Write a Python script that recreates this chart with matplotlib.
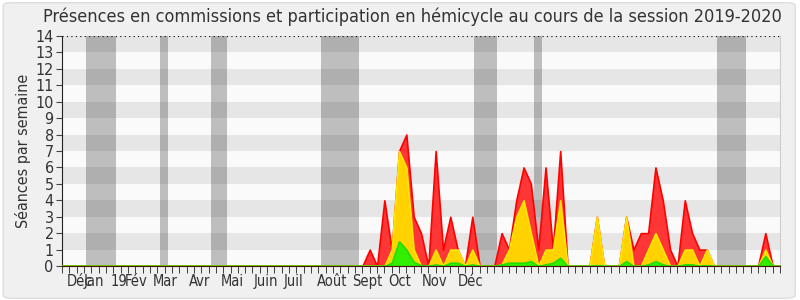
"""Plot weekly attendance (committees and hemicycle) for the 2019-2020 session."""

import matplotlib

matplotlib.use("Agg")

import matplotlib.pyplot as plt
import numpy as np
from matplotlib.axes import Axes
from matplotlib.patches import FancyBboxPatch

N_WEEKS = 99

# weeks 0..39 are empty, values below start at week 40
commission = [0] * 40 + [
    0, 0, 1, 0, 4, 1, 7, 8, 3, 2,
    0, 7, 1, 3, 1, 0, 3, 0, 0, 0,
    2, 1, 4, 6, 5, 1, 6, 1, 7, 0,
    0, 0, 0, 3, 0, 0, 0, 3, 1, 2,
    2, 6, 4, 1, 0, 4, 2, 1, 1, 0,
    0, 0, 0, 0, 0, 0, 2, 0, 0,
]
hemicycle = [0] * 40 + [
    0, 0, 0, 0, 0, 1, 7, 6, 1, 0,
    0, 1, 0, 1, 1, 0, 1, 0, 0, 0,
    0.1, 1, 3, 4, 2, 0, 1, 1, 4, 0,
    0, 0, 0, 3, 0, 0, 0, 3, 0, 0,
    1, 2, 1, 0, 0, 1, 1, 0, 1, 0,
    0, 0, 0, 0, 0, 0, 1, 0, 0,
]
interventions = [0] * 40 + [
    0, 0, 0, 0, 0, 0.2, 1.5, 1, 0.25, 0.05,
    0, 0.1, 0, 0.2, 0.2, 0, 0.1, 0, 0, 0,
    0.1, 0.2, 0.2, 0.2, 0.3, 0, 0.1, 0.2, 0.5, 0,
    0, 0, 0, 0.05, 0, 0, 0, 0.3, 0, 0,
    0.1, 0.3, 0.1, 0, 0, 0.1, 0.1, 0, 0.05, 0,
    0, 0, 0, 0, 0, 0, 0.6, 0, 0,
]

vacations = [
    (3.3, 7.4), (13.4, 14.4), (20.3, 22.5), (35.3, 40.5),
    (56.3, 59.4), (64.4, 65.5), (89.4, 93.4),
]

month_labels = ["Déc", "Jan", "19", "Fév", "Mar", "Avr", "Mai", "Juin",
                "Juil", "Août", "Sept", "Oct", "Nov", "Déc"]
month_pos = [2.4, 4.3, 7.8, 10.1, 14.05, 18.8, 23.2, 27.8,
             31.65, 36.8, 41.7, 46.1, 50.9, 55.8]

TEXT = "#333333"
FONT = dict(family="DejaVu Sans", stretch="condensed")


def _draw_background(axis: Axes, ymax: int) -> None:
    """Alternate horizontal stripes and grey vacation bands."""
    for k in range(ymax):
        color = "#e6e6e6" if k % 2 else "#fafafa"
        axis.axhspan(k, k + 1, color=color, lw=0, zorder=0)
    for start, end in vacations:
        axis.axvspan(start, end, color="black", alpha=0.24, lw=0, zorder=1)
    axis.axhline(ymax, color="black", ls=(0, (1, 3)), lw=0.8, zorder=2)


def _draw_series(axis: Axes) -> None:
    """Overlapping filled areas, largest first."""
    weeks = np.arange(N_WEEKS)
    layers = [
        (commission, "#ff3636", "#ff0000"),
        (hemicycle, "#ffd200", "#ffe600"),
        (interventions, "#33ee00", "#22dd00"),
    ]
    for values, face, edge in layers:
        axis.fill_between(weeks, 0, values, facecolor=face, edgecolor=edge,
                          lw=1.2, zorder=3)


fig = plt.figure(figsize=(8, 3), dpi=100)
fig.patch.set_facecolor("white")
fig.patches.append(FancyBboxPatch(
    (0.004, 0.006), 0.99, 0.985, boxstyle="round,pad=0,rounding_size=0.01",
    transform=fig.transFigure, facecolor="#f0f0f0", edgecolor="#dddddd",
    lw=1, zorder=-1))

ax = fig.add_axes([0.0775, 0.1133, 0.8975, 0.7667])
_draw_background(ax, 14)
_draw_series(ax)

ax.set_xlim(0, N_WEEKS - 1)
ax.set_ylim(0, 14)
ax.set_yticks(range(15))
ax.set_yticklabels([str(v) for v in range(15)], color=TEXT, fontsize=11.5,
                   **FONT)
ax.set_xticks(month_pos)
ax.set_xticklabels(month_labels, color=TEXT, fontsize=10.5, **FONT)
ax.set_xticks(range(N_WEEKS), minor=True)
ax.tick_params(axis="x", which="major", length=0, pad=6)
ax.tick_params(axis="x", which="minor", length=5, color="#222222")
ax.tick_params(axis="y", length=4, color="#444444", pad=2)

ax.spines["top"].set_visible(False)
ax.spines["right"].set_color("#cccccc")
ax.spines["left"].set_color("#222222")
ax.spines["bottom"].set_color("#4a1010")
ax.spines["bottom"].set_zorder(4)

ax.set_ylabel("Séances par semaine", color=TEXT, fontsize=11.5, labelpad=3,
              **FONT)
fig.suptitle("Présences en commissions et participation en hémicycle "
             "au cours de la session 2019-2020", x=0.515, y=0.975,
             color=TEXT, fontsize=13, **FONT)

fig.savefig("out.png", dpi=100)
